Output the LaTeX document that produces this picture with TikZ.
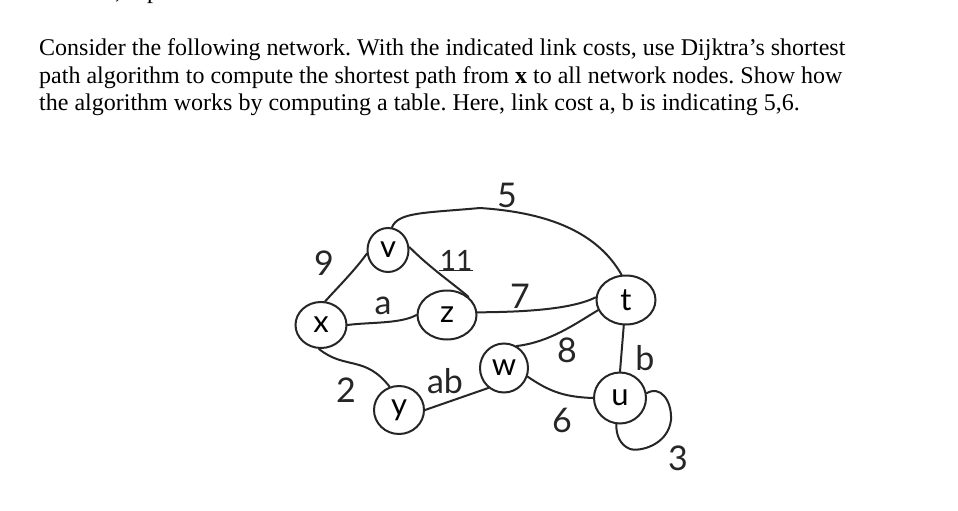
\documentclass[tikz,border=0pt]{standalone}
\usepackage{fontspec}
\setmainfont{Liberation Serif}
\newfontfamily\handfont{Lato}
\usetikzlibrary{shapes, positioning, shapes.geometric}

\tikzset{
    netnode/.style={draw=black!85, line width=2pt, ellipse, inner sep=0pt, font=\handfont\fontsize{31}{31}\selectfont},
    netlink/.style={draw=black!85, line width=2pt, line cap=round},
    costlabel/.style={inner sep=0pt, text=black!85, font=\handfont\fontsize{34}{34}\selectfont}
}

\begin{document}
\frenchspacing
\begin{tikzpicture}[x=1pt, y=-1pt]
    \useasboundingbox (0,0) rectangle (958,511);
    \fill[white] (0,0) rectangle (958,511);

    % Question text
    \node[anchor=base west, inner sep=0pt, font=\fontsize{24}{27.5}\selectfont] (fragcomma) at (115,-1) {,};
    \node[anchor=base west, inner sep=0pt, font=\fontsize{24}{27.5}\selectfont] (fragp) at (147,-1) {p};
    \node[anchor=north west, inner sep=0pt, align=left, font=\fontsize{24}{27.5}\selectfont] (question) at (39,38.5) {Consider the following network. With the indicated link costs, use Dijktra’s shortest\\
    path algorithm to compute the shortest path from \textbf{x} to all network nodes. Show how\\
    the algorithm works by computing a table. Here, link cost a, b is indicating 5,6.};

    % Network nodes
    \node[netnode, minimum width=51pt, minimum height=46pt] (x) at (321,325) {x};
    \node[netnode, minimum width=41pt, minimum height=44pt] (v) at (388,250) {v};
    \node[netnode, minimum width=59pt, minimum height=49pt] (z) at (447,315) {z};
    \node[netnode, minimum width=50pt, minimum height=48pt] (y) at (399,410) {y};
    \node[netnode, minimum width=48pt, minimum height=49pt] (w) at (504,368) {w};
    \node[netnode, minimum width=59pt, minimum height=49pt] (t) at (626,300) {t};
    \node[netnode, minimum width=52pt, minimum height=51pt] (u) at (620,398) {u};

    % Links
    \draw[netlink] (x.80) .. controls (340,285) and (355,270) .. (v.190);
    \draw[netlink] (x.0) .. controls (370,322) and (400,324) .. (z.180);
    \draw[netlink] (x.265) .. controls (345,370) and (365,355) .. (y.112);
    \draw[netlink] (v.80) .. controls (398,212) and (425,213) .. (480,208)
        .. controls (540,212) and (595,228) .. (t.100);
    \draw[netlink] (v.8) .. controls (430,268) and (455,285) .. (z.40);
    \draw[netlink] (z.5) .. controls (520,312) and (570,310) .. (t.175);
    \draw[netlink] (y.0) -- (w.232);
    \draw[netlink] (w.60) .. controls (550,342) and (575,324) .. (t.200);
    \draw[netlink] (w.340) .. controls (550,392) and (565,397) .. (u.180);
    \draw[netlink] (t.265) -- (u.90);
    \draw[netlink] (u.10) .. controls (660,385) and (672,400) .. (671,420)
        .. controls (668,445) and (640,452) .. (630,449)
        .. controls (620,445) and (616,435) .. (u.262);

    % Link costs
    \node[costlabel] (cost5) at (507,195) {5};
    \node[costlabel] (cost9) at (324,263) {9};
    \node[costlabel, font=\handfont\fontsize{28}{28}\selectfont] (cost11) at (456,260) {11};
    \draw[netlink, line width=1.5pt] (cost11.south west) -- (cost11.south east);
    \node[costlabel] (cost7) at (520,296) {7};
    \node[costlabel] (costa) at (383,306) {a};
    \node[costlabel] (costab) at (445,381) {ab};
    \node[costlabel] (cost8) at (567,350) {8};
    \node[costlabel] (costb) at (645,358) {b};
    \node[costlabel] (cost6) at (562,420) {6};
    \node[costlabel] (cost3) at (678,458) {3};
    \node[costlabel] (cost2) at (346,390) {2};
\end{tikzpicture}
\end{document}
